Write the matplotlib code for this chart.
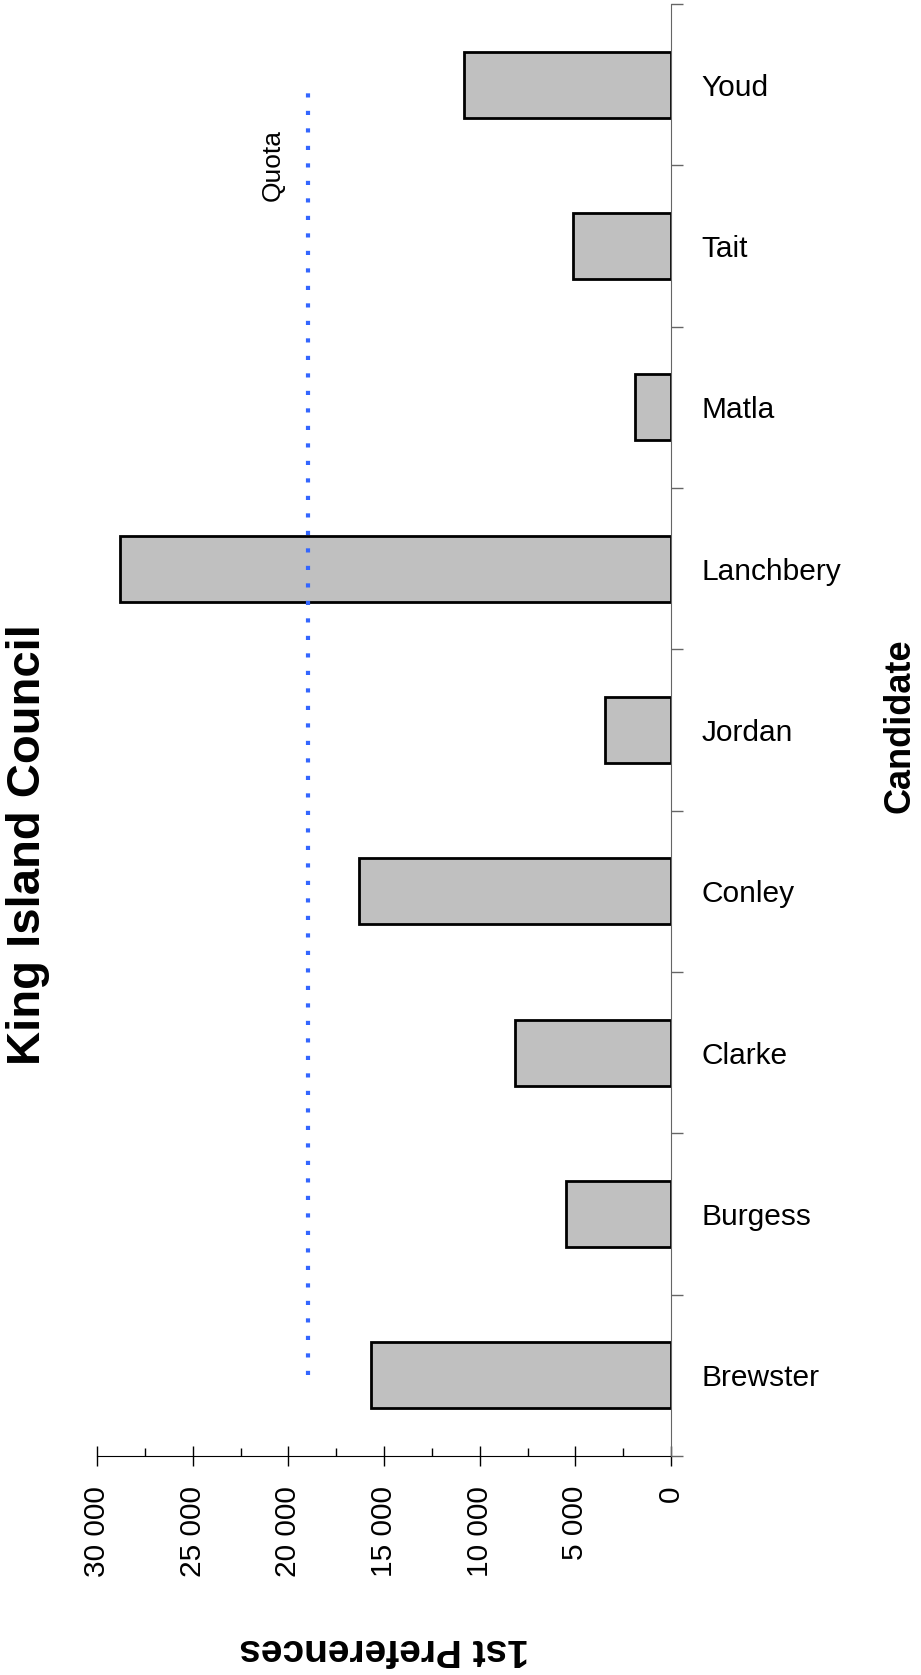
import matplotlib
matplotlib.use("Agg")
import matplotlib.pyplot as plt
from matplotlib.ticker import MultipleLocator, FuncFormatter

# Candidates from bottom to top of the chart
candidates = ["Brewster", "Burgess", "Clarke", "Conley", "Jordan",
              "Lanchbery", "Matla", "Tait", "Youd"]
first_prefs = [15700, 5470, 8150, 16310, 3460, 28820, 1900, 5140, 10840]
quota = 18970

x_ticks = [0, 5000, 10000, 15000, 20000, 25000, 30000]

# no narrow font here, so the plain one is used a bit smaller
plain = ["Liberation Sans", "DejaVu Sans"]
bold = ["Liberation Sans", "DejaVu Sans"]


def thousands(v, pos):
    return "{:,.0f}".format(v).replace(",", " ")


def plot_data():
    fig = plt.figure(figsize=(9.21, 16.75), dpi=100)
    ax = fig.add_axes([97 / 921, 219 / 1675, 574 / 921, 1452 / 1675])

    pos = list(range(len(candidates)))
    ax.barh(pos, first_prefs, height=0.41, color="#c0c0c0",
            edgecolor="black", linewidth=2, zorder=2)

    # quota line, dotted, from the first candidate to the last
    ax.plot([quota, quota], [0, len(candidates) - 1], color="#3366ff",
            linewidth=3, linestyle=(0, (1, 3.2)), zorder=3)
    ax.text(quota + 1850, len(candidates) - 1 - 0.5, "Quota", rotation=90,
            ha="center", va="center", fontsize=19, family=plain)

    # value axis runs right to left
    ax.set_xlim(30000, 0)
    ax.set_ylim(-0.5, len(candidates) - 0.5)
    ax.set_xticks(x_ticks)
    ax.xaxis.set_minor_locator(MultipleLocator(2500))
    ax.xaxis.set_major_formatter(FuncFormatter(thousands))
    ax.tick_params(axis="x", which="major", direction="inout", length=15,
                   width=1, pad=14, labelsize=21.5, labelrotation=90)
    ax.tick_params(axis="x", which="minor", direction="in", length=6,
                   width=1)
    for lab in ax.get_xticklabels():
        lab.set_family(plain)

    # candidate names on the right side
    ax.yaxis.tick_right()
    ax.set_yticks(pos)
    ax.set_yticklabels(candidates)
    ax.set_yticks([p - 0.5 for p in pos] + [len(pos) - 0.5], minor=True)
    ax.tick_params(axis="y", which="major", length=0, pad=22, labelsize=21.5)
    ax.tick_params(axis="y", which="minor", direction="out", length=8.6,
                   width=1, color="#666666")
    for lab in ax.get_yticklabels():
        lab.set_family(plain)

    ax.spines["left"].set_visible(False)
    ax.spines["top"].set_visible(False)
    ax.spines["right"].set_color("#666666")
    ax.spines["right"].set_zorder(4)
    ax.spines["bottom"].set_color("black")

    # titles, all rotated like the chart
    fig.text(28 / 921, 1 - 845 / 1675, "King Island Council", rotation=90,
             ha="center", va="center", fontsize=34, fontweight="bold",
             family=bold)
    fig.text(900 / 921, 1 - 726 / 1675, "Candidate", rotation=90,
             ha="center", va="center", fontsize=26, fontweight="bold",
             family=bold)
    fig.text(384 / 921, 1 - 1649 / 1675, "1st Preferences", rotation=180,
             ha="center", va="center", fontsize=28, fontweight="bold",
             family=bold)

    fig.savefig("out.png", dpi=100)


def main():
    plot_data()


main()
